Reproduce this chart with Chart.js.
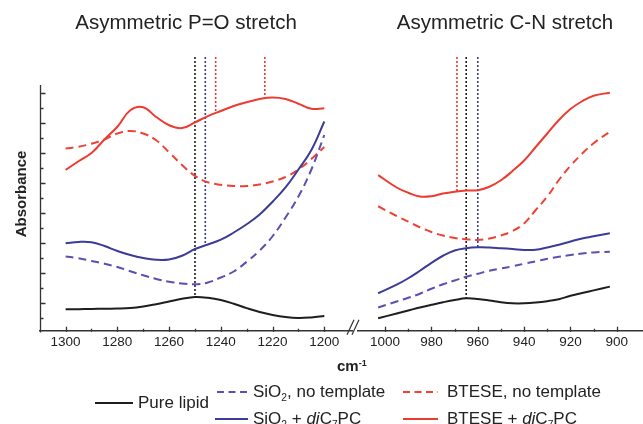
<!DOCTYPE html>
<html>
<head>
<meta charset="utf-8">
<script src="https://cdn.jsdelivr.net/npm/chart.js@4.4.1/dist/chart.umd.min.js"></script>
<style>
  html, body { margin: 0; padding: 0; background: #fff; }
  #wrap { position: relative; width: 643px; height: 424px; overflow: hidden;
          font-family: Arial, "Liberation Sans", sans-serif; color: #222; }
  #wrap canvas { position: absolute; left: 0; top: 0; }
  .unit { position: absolute; left: 337px; top: 357px; font-weight: bold; font-size: 15px; line-height: 18px; }
  .unit sup { font-size: 9px; vertical-align: top; position: relative; top: -3px; }
  .leg { position: absolute; display: flex; align-items: center; height: 22px;
         font-size: 17px; white-space: nowrap; }
  .leg svg { display: block; }
  .leg sub { font-size: 0.6em; vertical-align: baseline; position: relative; top: 0.35em; }
</style>
</head>
<body>
<div id="wrap">
  <canvas id="leftChart" width="643" height="424"></canvas>
  <canvas id="rightChart" width="643" height="424"></canvas>
  <div class="unit">cm<sup>-1</sup></div>
  <div id="legend"></div>
</div>
<script>
// ================= DATOS =================
// P=O region (cm-1)
const leftX = [1300, 1295, 1290, 1285, 1280, 1275, 1270, 1265, 1260, 1255, 1250,
               1245, 1240, 1235, 1230, 1225, 1220, 1215, 1210, 1205, 1200];
const leftPure     = [0.58, 0.59, 0.60, 0.62, 0.63, 0.66, 0.76, 0.92, 1.10, 1.28, 1.40,
                      1.35, 1.20, 0.95, 0.66, 0.40, 0.20, 0.06, 0.00, 0.04, 0.13];
const leftSiO2     = [4.10, 3.98, 3.80, 3.62, 3.40, 3.12, 2.85, 2.60, 2.42, 2.30, 2.25,
                      2.37, 2.70, 3.10, 3.75, 4.50, 5.45, 6.70, 8.10, 9.90, 12.20];
const leftSiO2Lip  = [4.98, 5.07, 5.05, 4.80, 4.47, 4.20, 4.00, 3.88, 3.90, 4.15, 4.60,
                      4.90, 5.22, 5.70, 6.25, 6.90, 7.75, 8.70, 9.90, 11.20, 13.10];
const leftBtese    = [11.30, 11.42, 11.62, 11.90, 12.30, 12.47, 12.30, 11.85, 11.05, 10.20, 9.47,
                      9.05, 8.88, 8.80, 8.80, 8.90, 9.10, 9.40, 9.90, 10.60, 11.40];
const leftBteseLip = [9.87, 10.45, 11.00, 11.90, 12.75, 13.85, 14.05, 13.40, 12.85, 12.66, 13.04,
                      13.46, 13.80, 14.13, 14.38, 14.60, 14.70, 14.60, 14.28, 13.95, 13.98];

// C-N region (cm-1)
const rightX = [1003, 995, 990, 985, 980, 975, 970, 965, 960, 955,
                950, 945, 940, 935, 930, 925, 920, 915, 910, 903];
const rightPure     = [-0.02, 0.30, 0.50, 0.70, 0.88, 1.05, 1.20, 1.31, 1.27, 1.17,
                       1.05, 0.98, 0.98, 1.03, 1.12, 1.25, 1.48, 1.66, 1.84, 2.09];
const rightSiO2     = [0.70, 1.10, 1.35, 1.62, 1.95, 2.25, 2.50, 2.75, 2.95, 3.15,
                       3.30, 3.45, 3.62, 3.78, 3.95, 4.08, 4.20, 4.30, 4.37, 4.42];
const rightSiO2Lip  = [1.65, 2.22, 2.65, 3.15, 3.68, 4.15, 4.50, 4.65, 4.71, 4.70,
                       4.65, 4.60, 4.54, 4.55, 4.70, 4.88, 5.10, 5.30, 5.45, 5.65];
const rightBtese    = [7.45, 6.80, 6.42, 6.05, 5.73, 5.50, 5.33, 5.25, 5.20, 5.30,
                       5.50, 5.80, 6.30, 7.20, 8.10, 9.20, 10.15, 10.95, 11.65, 12.42];
const rightBteseLip = [9.53, 8.70, 8.35, 8.10, 8.12, 8.30, 8.42, 8.50, 8.52, 8.75,
                       9.18, 9.80, 10.50, 11.40, 12.30, 13.20, 13.93, 14.45, 14.82, 15.02];

// peak markers (dotted verticals): position and where they meet the curve
const leftMarkX  = [1250, 1246, 1242, 1223];
const leftMarkY  = [1.40, 4.85, 13.70, 14.72];
const rightMarkX = [969, 965, 960];
const rightMarkY = [8.47, 1.31, 4.71];

// tick labels
const leftTicks  = [1300, 1280, 1260, 1240, 1220, 1200];
const rightTicks = [1000, 980, 960, 940, 920, 900];

const seriesNames = [
    'Pure lipid',
    'SiO<sub>2</sub>, no template',
    'SiO<sub>2</sub> + <i>di</i>C<sub>7</sub>PC',
    'BTESE, no template',
    'BTESE + <i>di</i>C<sub>7</sub>PC'
];

// ================= ESTILO =================
const colors = {
    pure: '#1e1e1e',
    sio2: '#5a50b0',
    sio2Lip: '#3b3b98',
    btese: '#ee4236',
    bteseLip: '#ec3b2f'
};
const seriesColors = [colors.pure, colors.sio2, colors.sio2Lip, colors.btese, colors.bteseLip];
const seriesDashed = [false, true, false, true, false];
const DASH = [8, 5];

const Y_MIN = -0.867;
const Y_MAX = 17.4;
const Y_AXIS_TOP = 15.53;

Chart.defaults.font.family = 'Arial, "Liberation Sans", sans-serif';
Chart.defaults.color = '#222';

function points(xs, ys) {
    return xs.map((x, i) => ({x: x, y: ys[i]}));
}

function curve(xs, ys, color, dashed) {
    return {
        data: points(xs, ys),
        borderColor: color,
        borderWidth: 2,
        borderDash: dashed ? DASH : [],
        pointRadius: 0,
        tension: 0.4,
        fill: false
    };
}

function marks(xs, ys, markColors) {
    return xs.map((x, i) => ({
        data: [{x: x, y: Y_MAX}, {x: x, y: ys[i]}],
        borderColor: markColors[i],
        borderWidth: 1.6,
        borderDash: [2, 2],
        pointRadius: 0,
        tension: 0
    }));
}

// ================= EJES (ticks hacia dentro) =================
const innerTicks = {
    id: 'innerTicks',
    afterDraw(chart, args, opts) {
        const ctx = chart.ctx;
        const xs = chart.scales.x;
        const ys = chart.scales.y;
        const area = chart.chartArea;
        const bottom = area.bottom + 0.75;

        ctx.save();
        ctx.strokeStyle = '#333';
        ctx.lineWidth = 1.3;
        ctx.beginPath();
        for (let v = opts.from; v >= opts.to; v -= 10) {
            const px = Math.round(xs.getPixelForValue(v)) + 0.5;
            const len = v % 20 === 0 ? 5 : 3;
            ctx.moveTo(px, bottom);
            ctx.lineTo(px, bottom - len);
        }
        if (opts.yAxis) {
            const left = area.left + 0.5;
            ctx.moveTo(left, bottom + 0.75);
            ctx.lineTo(left, ys.getPixelForValue(Y_AXIS_TOP));
            for (let v = 0; v <= 15; v++) {
                const py = Math.round(ys.getPixelForValue(v)) + 0.5;
                const len = v % 2 ? 5 : 3;
                ctx.moveTo(left, py);
                ctx.lineTo(left + len, py);
            }
        }
        ctx.stroke();

        if (opts.breakMark) {
            const x0 = area.left;
            ctx.lineWidth = 1.2;
            ctx.beginPath();
            ctx.moveTo(x0 - 11, bottom + 3);
            ctx.lineTo(x0 - 4, bottom - 12);
            ctx.moveTo(x0 - 6, bottom + 3);
            ctx.lineTo(x0 + 1, bottom - 12);
            ctx.stroke();
        }
        ctx.restore();
    }
};

function xScale(min, max, ticks) {
    return {
        type: 'linear',
        reverse: true,
        min: min,
        max: max,
        afterBuildTicks: s => { s.ticks = ticks.map(v => ({value: v})); },
        afterFit: s => { s.height = 93; },
        grid: { display: false, drawTicks: false },
        border: { display: true, color: '#333', width: 1.5 },
        ticks: {
            font: { size: 13.5 },
            color: '#222',
            padding: 3,
            maxRotation: 0,
            autoSkip: false,
            callback: v => String(v)
        }
    };
}

function titleOpts(text) {
    return {
        display: true,
        text: text,
        color: '#222',
        font: { size: 20.5, weight: 'normal' },
        padding: { top: 11, bottom: 21.4 },
        fullSize: true
    };
}

// ================= GRÁFICA IZQUIERDA =================
const leftChart = new Chart(document.getElementById('leftChart'), {
    type: 'line',
    data: {
        datasets: [
            curve(leftX, leftPure, colors.pure, false),
            curve(leftX, leftSiO2, colors.sio2, true),
            curve(leftX, leftSiO2Lip, colors.sio2Lip, false),
            curve(leftX, leftBtese, colors.btese, true),
            curve(leftX, leftBteseLip, colors.bteseLip, false)
        ].concat(marks(leftMarkX, leftMarkY, [colors.pure, colors.sio2Lip, colors.bteseLip, colors.bteseLip]))
    },
    options: {
        responsive: false,
        animation: false,
        layout: { padding: { left: 20, right: 291, top: 0, bottom: 0 } },
        scales: {
            x: xScale(1189.3, 1309.9, leftTicks),
            y: {
                type: 'linear',
                min: Y_MIN,
                max: Y_MAX,
                afterFit: s => { s.width = 20; },
                grid: { display: false, drawTicks: false },
                border: { display: false },
                ticks: { display: false },
                title: {
                    display: true,
                    text: 'Absorbance',
                    color: '#222',
                    font: { size: 15, weight: 'bold' },
                    padding: { top: -7, bottom: 0 }
                }
            }
        },
        plugins: {
            legend: { display: false },
            tooltip: { enabled: false },
            title: titleOpts('Asymmetric P=O stretch'),
            innerTicks: { from: 1300, to: 1200, yAxis: true, breakMark: false }
        }
    },
    plugins: [innerTicks]
});

// ================= GRÁFICA DERECHA =================
const rightChart = new Chart(document.getElementById('rightChart'), {
    type: 'line',
    data: {
        datasets: [
            curve(rightX, rightPure, colors.pure, false),
            curve(rightX, rightSiO2, colors.sio2, true),
            curve(rightX, rightSiO2Lip, colors.sio2Lip, false),
            curve(rightX, rightBtese, colors.btese, true),
            curve(rightX, rightBteseLip, colors.bteseLip, false)
        ].concat(marks(rightMarkX, rightMarkY, [colors.bteseLip, colors.pure, colors.sio2Lip]))
    },
    options: {
        responsive: false,
        animation: false,
        layout: { padding: { left: 358, right: -9, top: 0, bottom: 0 } },
        scales: {
            x: xScale(888.7, 1011.7, rightTicks),
            y: { type: 'linear', min: Y_MIN, max: Y_MAX, display: false }
        },
        plugins: {
            legend: { display: false },
            tooltip: { enabled: false },
            title: titleOpts('Asymmetric C-N stretch'),
            innerTicks: { from: 1000, to: 900, yAxis: false, breakMark: true }
        }
    },
    plugins: [innerTicks]
});

// ================= LEYENDA =================
const legendSpots = [
    { left: 95,  cy: 403, w: 38, gap: 5 },
    { left: 217, cy: 392, w: 31, gap: 5 },
    { left: 215, cy: 419, w: 33, gap: 5 },
    { left: 403, cy: 392, w: 35, gap: 9 },
    { left: 403, cy: 419, w: 35, gap: 9 }
];

const legend = document.getElementById('legend');
seriesNames.forEach((name, i) => {
    const spot = legendSpots[i];
    const item = document.createElement('div');
    item.className = 'leg';
    item.style.left = spot.left + 'px';
    item.style.top = (spot.cy - 11) + 'px';
    const dash = seriesDashed[i] ? ' stroke-dasharray="7 4.5"' : '';
    item.innerHTML =
        '<svg width="' + spot.w + '" height="4"><line x1="0" y1="2" x2="' + spot.w +
        '" y2="2" stroke="' + seriesColors[i] + '" stroke-width="2"' + dash + '/></svg>' +
        '<span style="margin-left:' + spot.gap + 'px">' + name + '</span>';
    legend.appendChild(item);
});
</script>
</body>
</html>
